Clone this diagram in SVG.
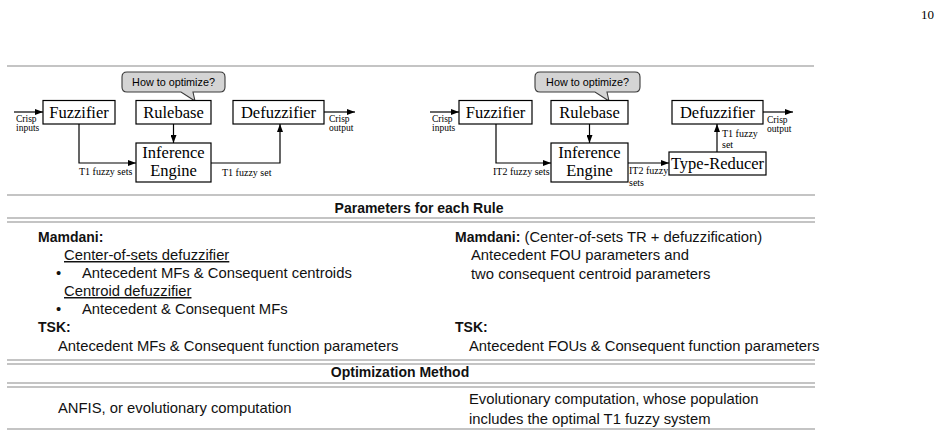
<svg xmlns="http://www.w3.org/2000/svg" width="938" height="436" viewBox="0 0 938 436">
<style>
.box{fill:#fff;stroke:#000;stroke-width:1.2}
.lbl{font-family:"Liberation Serif","Times New Roman",serif;font-size:16.5px;fill:#000}
.sm{font-family:"Liberation Serif","Times New Roman",serif;font-size:10px;fill:#000}
.xs{font-family:"Liberation Serif","Times New Roman",serif;font-size:9.5px;fill:#000}
.bub{fill:#d4d4d4;stroke:#3a3a3a;stroke-width:1.1}
.bt{font-family:"Liberation Sans",Arial,sans-serif;font-size:10.8px;fill:#000}
.con{fill:none;stroke:#000;stroke-width:1.2}
.rule{stroke:#8a8a8a;stroke-width:1.2;fill:none}
.t{font-family:"Liberation Sans",Arial,sans-serif;font-size:14.8px;fill:#111}
.b{font-family:"Liberation Sans",Arial,sans-serif;font-size:14px;font-weight:bold;fill:#111}
</style>
<defs>
<marker id="ah" markerUnits="userSpaceOnUse" markerWidth="8" markerHeight="6" refX="8" refY="3" orient="auto">
<path d="M0,0 L8,3 L0,6 Z" fill="#000"/>
</marker>
</defs>
<rect width="938" height="436" fill="#fff"/>
<text x="934" y="19" text-anchor="end" font-family="'Liberation Serif',serif" font-size="13" fill="#000">10</text>

<g id="rules">
<line class="rule" x1="7" y1="66" x2="814" y2="66"/>
<line class="rule" x1="7" y1="195" x2="815" y2="195"/>
<line class="rule" x1="7" y1="218" x2="815" y2="218"/>
<line class="rule" x1="7" y1="222" x2="815" y2="222"/>
<line class="rule" x1="7" y1="360" x2="815" y2="360"/>
<line class="rule" x1="7" y1="364" x2="815" y2="364"/>
<line class="rule" x1="7" y1="383" x2="815" y2="383"/>
<line class="rule" x1="7" y1="387" x2="815" y2="387"/>
<line class="rule" x1="7" y1="429" x2="815" y2="429"/>
</g>

<!-- Left (T1) diagram -->
<g id="l-bubble">
<path class="bub" d="M127,72 H220 Q225,72 225,77 V87 Q225,92 220,92 H193 L195,101 L181,92 H127 Q122,92 122,87 V77 Q122,72 127,72 Z"/>
<text class="bt" x="173.5" y="86" text-anchor="middle">How to optimize?</text>
</g>
<g id="l-fuzzifier">
<rect class="box" x="43" y="100.5" width="72" height="23.5"/>
<text class="lbl" x="79" y="118" text-anchor="middle">Fuzzifier</text>
</g>
<g id="l-rulebase">
<rect class="box" x="136" y="100.5" width="75" height="23.5"/>
<text class="lbl" x="173.5" y="118" text-anchor="middle">Rulebase</text>
</g>
<g id="l-defuzzifier">
<rect class="box" x="233" y="100.5" width="91" height="23.5"/>
<text class="lbl" x="278.5" y="118" text-anchor="middle">Defuzzifier</text>
</g>
<g id="l-inference">
<rect class="box" x="136" y="143" width="75" height="39"/>
<text class="lbl" x="173.5" y="158" text-anchor="middle">Inference</text>
<text class="lbl" x="173.5" y="176" text-anchor="middle">Engine</text>
</g>

<!-- Right (IT2) diagram -->
<g id="r-bubble">
<path class="bub" d="M540,72 H635 Q640,72 640,77 V87 Q640,92 635,92 H607 L609,101 L595,92 H540 Q535,92 535,87 V77 Q535,72 540,72 Z"/>
<text class="bt" x="587.5" y="86" text-anchor="middle">How to optimize?</text>
</g>
<g id="r-fuzzifier">
<rect class="box" x="459" y="100.5" width="73" height="23.5"/>
<text class="lbl" x="495.5" y="118" text-anchor="middle">Fuzzifier</text>
</g>
<g id="r-rulebase">
<rect class="box" x="551" y="100.5" width="77" height="23.5"/>
<text class="lbl" x="589.5" y="118" text-anchor="middle">Rulebase</text>
</g>
<g id="r-defuzzifier">
<rect class="box" x="672" y="100.5" width="91" height="23.5"/>
<text class="lbl" x="717.5" y="118" text-anchor="middle">Defuzzifier</text>
</g>
<g id="r-inference">
<rect class="box" x="551" y="143" width="77" height="39"/>
<text class="lbl" x="589.5" y="158" text-anchor="middle">Inference</text>
<text class="lbl" x="589.5" y="176" text-anchor="middle">Engine</text>
</g>
<g id="r-typereducer">
<rect class="box" x="669" y="152" width="97" height="23"/>
<text class="lbl" x="717.5" y="169" text-anchor="middle">Type-Reducer</text>
</g>

<g id="connectors">
<line class="con" x1="14" y1="112" x2="43" y2="112" marker-end="url(#ah)"/>
<polyline class="con" points="79,124 79,163 136,163" marker-end="url(#ah)"/>
<line class="con" x1="173.5" y1="124" x2="173.5" y2="143" marker-end="url(#ah)"/>
<polyline class="con" points="211,163 280,163 280,124" marker-end="url(#ah)"/>
<line class="con" x1="324" y1="112" x2="355" y2="112" marker-end="url(#ah)"/>

<line class="con" x1="430" y1="112" x2="459" y2="112" marker-end="url(#ah)"/>
<polyline class="con" points="496,124 496,163 551,163" marker-end="url(#ah)"/>
<line class="con" x1="589.5" y1="124" x2="589.5" y2="143" marker-end="url(#ah)"/>
<line class="con" x1="628" y1="163" x2="669" y2="163" marker-end="url(#ah)"/>
<line class="con" x1="717" y1="152" x2="717" y2="124" marker-end="url(#ah)"/>
<line class="con" x1="763" y1="112" x2="793" y2="112" marker-end="url(#ah)"/>
</g>

<g id="connector-labels">
<text class="xs" x="16" y="122">Crisp</text>
<text class="xs" x="16" y="131">inputs</text>
<text class="sm" x="79" y="175">T1 fuzzy sets</text>
<text class="sm" x="222" y="176">T1 fuzzy set</text>
<text class="xs" x="329" y="122">Crisp</text>
<text class="xs" x="329" y="131">output</text>

<text class="xs" x="432" y="122">Crisp</text>
<text class="xs" x="432" y="131">inputs</text>
<text class="sm" x="493" y="175">IT2 fuzzy sets</text>
<text class="sm" x="629" y="174">IT2 fuzzy</text>
<text class="sm" x="629" y="186">sets</text>
<text class="sm" x="722" y="137">T1 fuzzy</text>
<text class="sm" x="722" y="148">set</text>
<text class="xs" x="767" y="123">Crisp</text>
<text class="xs" x="767" y="132">output</text>
</g>

<g id="table">
<text class="b" x="419" y="213" text-anchor="middle">Parameters for each Rule</text>
<text class="b" x="38" y="242">Mamdani:</text>
<text class="t" x="64" y="260" text-decoration="underline">Center-of-sets defuzzifier</text>
<text class="t" x="56" y="278">•</text>
<text class="t" x="82" y="278">Antecedent MFs &amp; Consequent centroids</text>
<text class="t" x="64" y="296" text-decoration="underline">Centroid defuzzifier</text>
<text class="t" x="56" y="314">•</text>
<text class="t" x="82" y="314">Antecedent &amp; Consequent MFs</text>
<text class="b" x="38" y="332">TSK:</text>
<text class="t" x="58" y="351">Antecedent MFs &amp; Consequent function parameters</text>

<text class="t" x="455" y="242"><tspan class="b">Mamdani:</tspan> (Center-of-sets TR + defuzzification)</text>
<text class="t" x="471" y="260">Antecedent FOU parameters and</text>
<text class="t" x="471" y="279">two consequent centroid parameters</text>
<text class="b" x="455" y="332">TSK:</text>
<text class="t" x="469" y="351">Antecedent FOUs &amp; Consequent function parameters</text>

<text class="b" x="400" y="377" text-anchor="middle">Optimization Method</text>
<text class="t" x="58" y="413">ANFIS, or evolutionary computation</text>
<text class="t" x="469" y="404">Evolutionary computation, whose population</text>
<text class="t" x="469" y="424">includes the optimal T1 fuzzy system</text>
</g>
</svg>
